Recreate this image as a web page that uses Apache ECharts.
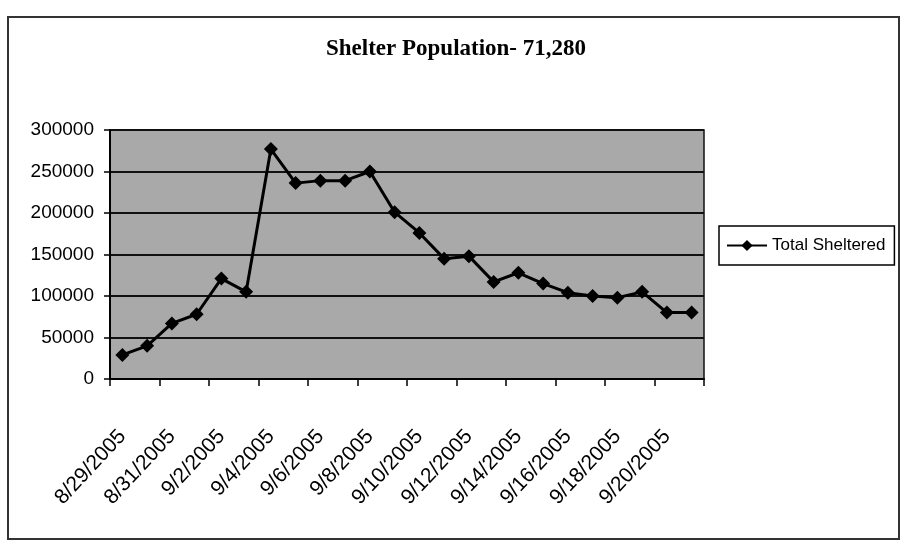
<!DOCTYPE html>
<html>
<head>
<meta charset="utf-8">
<script src="https://cdn.jsdelivr.net/npm/echarts@6/dist/echarts.min.js"></script>
<style>
  html, body { margin: 0; padding: 0; background: #fff; }
  #chart { width: 902px; height: 544px; }
</style>
</head>
<body>
<div id="chart"></div>
<script>
// data
const dates = [
  '8/29/2005', '8/30/2005', '8/31/2005', '9/1/2005', '9/2/2005', '9/3/2005',
  '9/4/2005', '9/5/2005', '9/6/2005', '9/7/2005', '9/8/2005', '9/9/2005',
  '9/10/2005', '9/11/2005', '9/12/2005', '9/13/2005', '9/14/2005', '9/15/2005',
  '9/16/2005', '9/17/2005', '9/18/2005', '9/19/2005', '9/20/2005', '9/21/2005'
];
const totalSheltered = [
  29000, 40000, 67000, 78000, 121000, 105000,
  277000, 236000, 239000, 239000, 250000, 201000,
  176000, 145000, 148000, 117000, 128000, 115000,
  104000, 100000, 98000, 105000, 80000, 80000
];
const seriesName = 'Total Sheltered';
const titleText = 'Shelter Population- 71,280';

const chart = echarts.init(document.getElementById('chart'));

const option = {
  backgroundColor: '#fff',
  animation: false,
  title: {
    text: titleText,
    left: 451,
    textAlign: 'center',
    top: 33,
    textStyle: {
      fontFamily: 'Liberation Serif',
      fontWeight: 'bold',
      fontSize: 23,
      color: '#000'
    }
  },
  graphic: [
    {
      type: 'rect',
      shape: { x: 8, y: 17, width: 891, height: 522 },
      style: { fill: 'none', stroke: '#333', lineWidth: 2 },
      silent: true
    }
  ],
  legend: {
    data: [seriesName],
    left: 719,
    top: 226,
    orient: 'vertical',
    padding: [11, 9, 11, 7],
    itemWidth: 40,
    itemHeight: 14,
    itemGap: 4,
    borderColor: '#000',
    borderWidth: 1.5,
    textStyle: {
      fontFamily: 'Liberation Sans',
      fontSize: 17,
      color: '#000'
    }
  },
  grid: {
    left: 110,
    top: 130,
    width: 594,
    height: 249,
    show: true,
    backgroundColor: '#a9a9a9',
    borderColor: '#111',
    borderWidth: 1.5
  },
  xAxis: {
    type: 'category',
    data: dates,
    boundaryGap: true,
    axisLine: { lineStyle: { color: '#000', width: 2 } },
    axisTick: { show: true, interval: 1, length: 7, lineStyle: { color: '#000', width: 1.5 } },
    axisLabel: {
      interval: 1,
      rotate: 47,
      margin: 54,
      fontFamily: 'Liberation Sans',
      fontSize: 21,
      color: '#000'
    },
    splitLine: { show: false }
  },
  yAxis: {
    type: 'value',
    min: 0,
    max: 300000,
    interval: 50000,
    axisLine: { show: true, lineStyle: { color: '#000', width: 2 } },
    axisTick: { show: true, length: 6, lineStyle: { color: '#000', width: 1.5 } },
    axisLabel: {
      margin: 16,
      formatter: (v) => String(v),
      fontFamily: 'Liberation Sans',
      fontSize: 19,
      color: '#000'
    },
    splitLine: { show: true, lineStyle: { color: '#111', width: 2 } }
  },
  series: [
    {
      name: seriesName,
      type: 'line',
      data: totalSheltered,
      symbol: 'diamond',
      symbolSize: 14,
      lineStyle: { color: '#000', width: 3 },
      itemStyle: { color: '#000' }
    }
  ]
};

chart.setOption(option);
</script>
</body>
</html>
